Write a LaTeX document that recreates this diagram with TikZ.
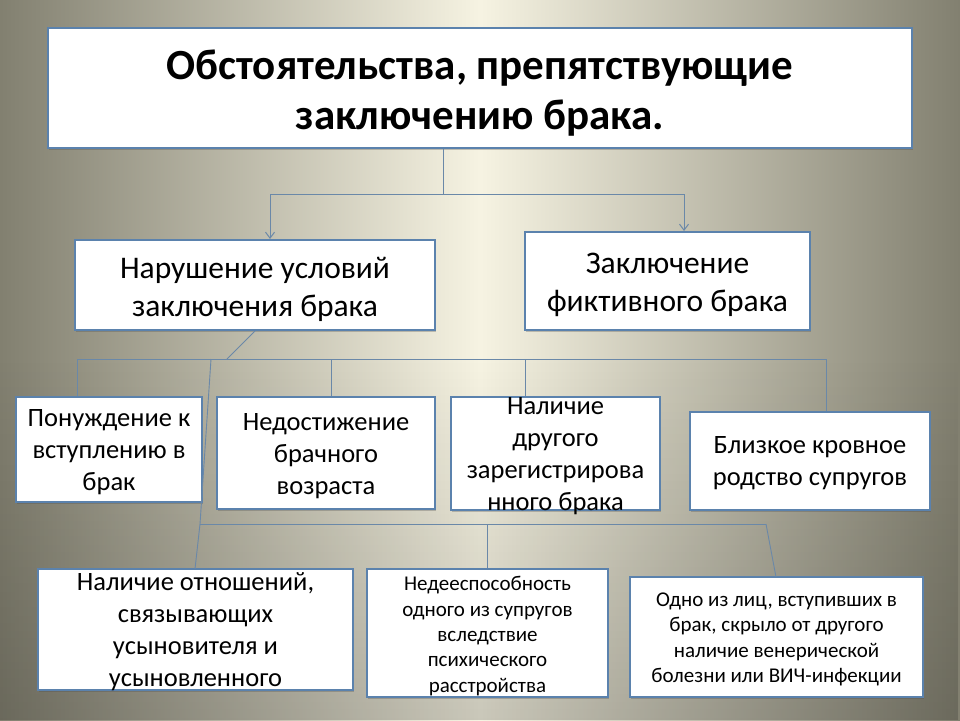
\documentclass[tikz,border=0pt]{standalone}
\usepackage{fontspec}
\setmainfont{Carlito}
\usetikzlibrary{arrows.meta,shadows,fadings}
\definecolor{bgedge}{HTML}{828070}
\definecolor{bgmid}{HTML}{F6F3E2}
\definecolor{boxblue}{HTML}{5B82AD}
\definecolor{linkblue}{HTML}{6A88A8}
\tikzset{
  box/.style={draw=boxblue, line width=2pt, fill=white, inner sep=0pt,
    drop shadow={shadow xshift=1pt, shadow yshift=-2pt, opacity=.3, fill=black!70}},
  txt/.style={align=center, inner sep=0pt, text=black},
  link/.style={draw=linkblue, line width=0.9pt},
  arr/.style={link, -{Straight Barb[length=6pt,width=9pt,line width=1pt]}},
  big/.style={font=\fontsize{43}{50}\selectfont\bfseries},
  mid/.style={font=\fontsize{31.5}{38}\selectfont},
  norm/.style={font=\fontsize{26.5}{32}\selectfont},
  small/.style={font=\fontsize{21}{25.4}\selectfont}
}
\begin{document}
\begin{tikzpicture}[x=1pt,y=-1pt]
\shade[left color=bgedge, right color=bgedge, middle color=bgmid] (0,0) rectangle (960,720);
\fill[black, opacity=.18, path fading=north] (0,360) rectangle (960,720);
\useasboundingbox (0,0) rectangle (960,720);

% boxes
\node[box, minimum width=864pt, minimum height=120pt] (top) at (480,88) {};
\node[txt, big] (topt) at (480,93) {Обстоятельства, препятствующие\\заключению брака.};

\node[box, minimum width=360pt, minimum height=90pt] (l2) at (255,285) {};
\node[txt, mid] (l2t) at (255,289) {Нарушение условий\\заключения брака};

\node[box, minimum width=285pt, minimum height=98pt] (r2) at (667.5,281) {};
\node[txt, mid] (r2t) at (667.5,285) {Заключение\\фиктивного брака};

\node[box, minimum width=186pt, minimum height=105pt] (a) at (109,449.5) {};
\node[txt, norm] (at) at (109,452) {Понуждение к\\вступлению в\\брак};

\node[box, minimum width=218pt, minimum height=112pt] (b) at (326,453) {};
\node[txt, norm] (bt) at (326,456) {Недостижение\\брачного\\возраста};

\node[box, minimum width=209pt, minimum height=113pt] (c) at (555.5,453.5) {};
\node[txt, norm] (ct) at (555.5,456) {Наличие\\другого\\зарегистрирова\\нного брака};

\node[box, minimum width=240pt, minimum height=98pt] (d) at (810,461) {};
\node[txt, norm] (dt) at (810,463) {Близкое кровное\\родство супругов};

\node[box, minimum width=315pt, minimum height=121pt] (e) at (195.5,629.5) {};
\node[txt, norm] (et) at (195.5,632) {Наличие отношений,\\связывающих\\усыновителя и\\усыновленного};

\node[box, minimum width=241pt, minimum height=128pt] (f) at (487.5,633) {};
\node[txt, small] (ft) at (487.5,636) {Недееспособность\\одного из супругов\\вследствие\\психического\\расстройства};

\node[box, minimum width=293pt, minimum height=120pt] (g) at (776.5,637) {};
\node[txt, small] (gt) at (776.5,639.5) {Одно из лиц, вступивших в\\брак, скрыло от другого\\наличие венерической\\болезни или ВИЧ-инфекции};

% connectors, level 1
\coordinate (j1) at (443,194);
\coordinate (j1l) at (270,194);
\coordinate (j1r) at (684,194);
\draw[link] (top.south -| j1) -- (j1);
\draw[link] (j1l) -- (j1r);
\draw[arr] (j1l) -- (j1l |- l2.north);
\draw[arr] (j1r) -- (j1r |- r2.north);

% level 2
\coordinate (j2) at (227,359);
\coordinate (j2a) at (77,359);
\coordinate (j2b) at (331,359);
\coordinate (j2c) at (525,359);
\coordinate (j2d) at (826,359);
\coordinate (j2x) at (211,359);
\draw[link] (l2.south) -- (j2);
\draw[link] (j2a) -- (j2d);
\draw[link] (j2a) -- (j2a |- a.north);
\draw[link] (j2b) -- (j2b |- b.north);
\draw[link] (j2c) -- (j2c |- c.north);
\draw[link] (j2d) -- (j2d |- d.north);

% level 3
\coordinate (j3) at (200,524);
\coordinate (j3f) at (487.5,524);
\coordinate (j3g) at (766,524);
\coordinate (ein) at (195,569);
\coordinate (gin) at (776,577);
\draw[link] (j2x) -- (j3) -- (ein);
\draw[link] (j3) -- (j3g);
\draw[link] (j3f) -- (f.north);
\draw[link] (j3g) -- (gin);
\end{tikzpicture}
\end{document}
